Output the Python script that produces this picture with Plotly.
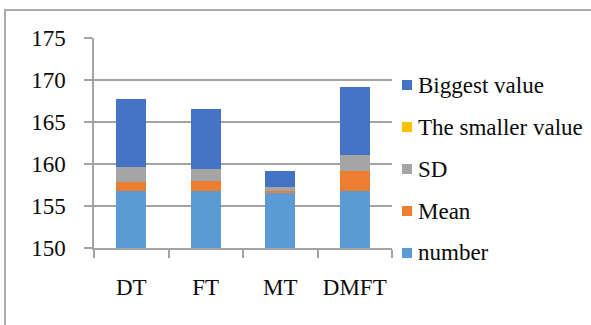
import plotly.graph_objects as go

categories = ["DT", "FT", "MT", "DMFT"]
number = [156.75, 156.75, 156.5, 156.75]
mean = [1.15, 1.2, 0.25, 2.4]
sd = [1.7, 1.45, 0.5, 1.9]
smaller_value = [0, 0, 0, 0]
biggest_value = [8.1, 7.1, 1.9, 8.1]

series = [
    ("number", number, "#5B9BD5"),
    ("Mean", mean, "#ED7D31"),
    ("SD", sd, "#A5A5A5"),
    ("The smaller value", smaller_value, "#FFC000"),
    ("Biggest value", biggest_value, "#4472C4"),
]

W, H = 591, 325
L, R, T, B = 94, 199, 38, 77
PW, PH = W - L - R, H - T - B
FONT = "Liberation Serif"
TXT = "#0a0a0a"
GRID = "#A3A3A3"


def px_x(x):
    return (x - L) / PW


def px_y(y):
    return (H - B - y) / PH


fig = go.Figure()
for name, vals, color in series:
    fig.add_trace(go.Bar(
        x=categories, y=vals, name=name,
        marker=dict(color=color, line=dict(width=0)),
        width=0.4, showlegend=False,
    ))

# legend drawn as swatches + labels, top entry first
shapes = []
annotations = []
for i, (name, vals, color) in enumerate(reversed(series)):
    cy = 85 + 42 * i
    shapes.append(dict(
        type="rect", xref="paper", yref="paper",
        x0=px_x(402), x1=px_x(412), y0=px_y(cy + 5), y1=px_y(cy - 5),
        fillcolor=color, line=dict(width=0),
    ))
    annotations.append(dict(
        text=name, xref="paper", yref="paper",
        x=px_x(416), y=px_y(cy), xanchor="left", yanchor="middle",
        showarrow=False, font=dict(family=FONT, size=23, color=TXT),
    ))

# chart frame
shapes.append(dict(
    type="rect", xref="paper", yref="paper",
    x0=px_x(5), x1=px_x(W + 10), y0=px_y(H + 10), y1=px_y(10),
    line=dict(color="#ABABAB", width=2), fillcolor="rgba(0,0,0,0)",
    layer="below",
))

fig.update_layout(
    barmode="stack",
    width=W, height=H,
    margin=dict(l=L, r=R, t=T, b=B, pad=0),
    paper_bgcolor="white", plot_bgcolor="white",
    font=dict(family=FONT, size=23, color=TXT),
    shapes=shapes, annotations=annotations,
    bargap=0.6,
)
fig.update_xaxes(
    type="category", showline=True, linecolor=GRID, linewidth=1.5,
    ticks="outside", tickson="boundaries", ticklen=8, tickcolor=GRID,
    tickwidth=1.5, showgrid=False, ticklabelstandoff=18,
    tickfont=dict(family=FONT, size=23, color=TXT),
)
fig.update_yaxes(
    range=[150, 175], dtick=5, tick0=150,
    showline=True, linecolor=GRID, linewidth=1.5,
    ticks="outside", ticklen=8, tickcolor=GRID, tickwidth=1.5,
    showgrid=True, gridcolor=GRID, gridwidth=1.5,
    zeroline=False, ticklabelstandoff=14,
    tickfont=dict(family=FONT, size=23, color=TXT),
)

fig.write_html("out.html")
